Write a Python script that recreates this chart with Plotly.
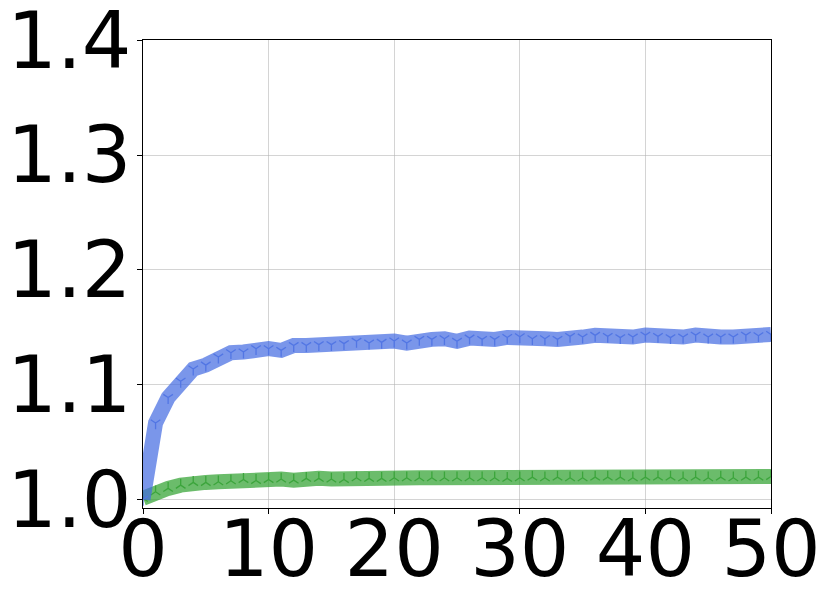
import plotly.graph_objects as go

steps = list(range(0, 51))

blue_vals = [1.000, 1.0666, 1.0887, 1.1029, 1.1136, 1.1170, 1.1240, 1.1278, 1.1284, 1.1313,
             1.1313, 1.1298, 1.1340, 1.1340, 1.1348, 1.1348, 1.1357, 1.1377, 1.1362, 1.1368,
             1.1380, 1.1362, 1.1394, 1.1394, 1.1400, 1.1377, 1.1405, 1.1394, 1.1394, 1.1411,
             1.1417, 1.1400, 1.1400, 1.1394, 1.1420, 1.1414, 1.1429, 1.1420, 1.1409, 1.1414,
             1.1431, 1.1420, 1.1409, 1.1414, 1.1431, 1.1414, 1.1414, 1.1414, 1.1431, 1.1426,
             1.1437]

green_vals = [1.001, 1.0066, 1.0096, 1.0124, 1.0148, 1.0148, 1.0153, 1.0162, 1.0174, 1.0165,
              1.0174, 1.0177, 1.0168, 1.0183, 1.0183, 1.0177, 1.0174, 1.0188, 1.0183, 1.0183,
              1.0188, 1.0188, 1.0188, 1.0188, 1.0188, 1.0188, 1.0188, 1.0188, 1.0188, 1.0183,
              1.0188, 1.0194, 1.0188, 1.0194, 1.0188, 1.0188, 1.0194, 1.0194, 1.0194, 1.0188,
              1.0194, 1.0194, 1.0194, 1.0188, 1.0194, 1.0188, 1.0194, 1.0188, 1.0194, 1.0194,
              1.0200]

x_ticks = [0, 10, 20, 30, 40, 50]
y_ticks = [1.0, 1.1, 1.2, 1.3, 1.4]

fig = go.Figure()

fig.add_trace(go.Scatter(
    x=steps, y=green_vals, mode="lines",
    line=dict(color="rgba(44,160,44,0.7)", width=15),
    showlegend=False, hoverinfo="skip",
))
fig.add_trace(go.Scatter(
    x=steps, y=green_vals, mode="markers",
    marker=dict(symbol="y-up", size=8, color="rgb(60,165,60)",
                line=dict(color="rgb(60,165,60)", width=1.3)),
    showlegend=False,
))
fig.add_trace(go.Scatter(
    x=steps, y=blue_vals, mode="lines",
    line=dict(color="rgba(65,105,225,0.7)", width=15),
    showlegend=False, hoverinfo="skip",
))
fig.add_trace(go.Scatter(
    x=steps, y=blue_vals, mode="markers",
    marker=dict(symbol="y-down", size=8, color="rgb(82,118,228)",
                line=dict(color="rgb(82,118,228)", width=1.3)),
    showlegend=False,
))

axis_common = dict(
    showgrid=True, gridcolor="rgba(176,176,176,0.55)", gridwidth=1,
    showline=True, linecolor="black", linewidth=1.2, mirror=True,
    ticks="outside", ticklen=5, tickwidth=1.2, tickcolor="black",
    tickfont=dict(family="DejaVu Sans", size=78, color="black"),
    zeroline=False, automargin=False, ticklabeloverflow="allow",
)

fig.update_layout(
    width=823, height=595,
    margin=dict(l=135, r=60, t=32, b=95),
    paper_bgcolor="white", plot_bgcolor="white",
    xaxis=dict(range=[0, 50], tickvals=x_ticks, ticktext=[str(v) for v in x_ticks],
               ticklabelstandoff=-32, **axis_common),
    yaxis=dict(range=[0.9925, 1.4002], tickvals=y_ticks, ticktext=[f"{v:.1f}" for v in y_ticks],
               ticklabelstandoff=-10, **axis_common),
)

fig.write_html("out.html")
